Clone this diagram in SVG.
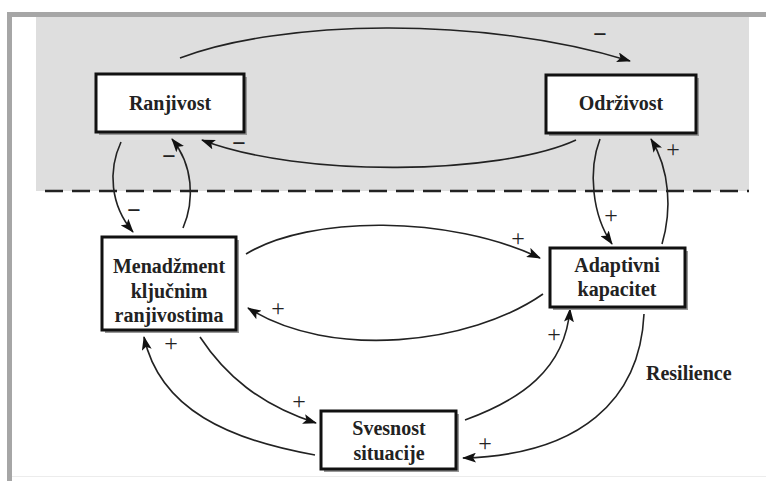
<svg xmlns="http://www.w3.org/2000/svg" width="766" height="481" viewBox="0 0 766 481">
<defs>
<marker id="ah" markerWidth="14" markerHeight="10" refX="13" refY="5" orient="auto" markerUnits="userSpaceOnUse">
<path d="M0,0 L14,5 L0,10 L3,5 z" fill="#111"/>
</marker>
<style>
.box{fill:#fff;stroke:#111;stroke-width:3}
.shadow{fill:#999}
.lbl{font-family:"Liberation Serif","Times New Roman",serif;font-weight:bold;font-size:20px;fill:#222;text-anchor:middle}
.sign{font-family:"Liberation Serif","Times New Roman",serif;font-size:24px;fill:#222;text-anchor:middle}
.minus{font-family:"Liberation Serif","Times New Roman",serif;font-size:24px;font-weight:bold;fill:#222;text-anchor:middle}
.con path{fill:none;stroke:#222;stroke-width:1.6;marker-end:url(#ah)}
</style>
</defs>
<rect x="0" y="0" width="766" height="481" fill="#fff"/>
<g id="frame">
<rect x="36" y="17" width="713" height="174" fill="#dedede"/>
<rect x="7" y="12" width="759" height="5" fill="#a6a6a6"/>
<rect x="7" y="12" width="5" height="469" fill="#a6a6a6"/>
<line x1="12" y1="476.5" x2="766" y2="476.5" stroke="#ececec" stroke-width="1"/>
<line x1="45" y1="191" x2="749" y2="191" stroke="#222" stroke-width="2.5" stroke-dasharray="18 9"/>
</g>
<g id="connectors" class="con">
<path d="M180,58 C280,20 480,15 630,61"/>
<path d="M576,140 C500,175 300,178 202,140"/>
<path d="M121,142 C108,170 110,205 133,232"/>
<path d="M183,228 C195,200 193,165 172,139"/>
<path d="M600,139 C588,170 592,215 612,244"/>
<path d="M662,244 C672,210 670,170 651,139"/>
<path d="M246,254 C310,215 450,215 540,258"/>
<path d="M543,294 C470,345 330,360 248,308"/>
<path d="M200,337 C225,375 260,405 316,423"/>
<path d="M315,455 C230,440 160,410 144,337"/>
<path d="M465,420 C520,400 565,370 570,309"/>
<path d="M644,314 C640,400 580,455 463,458"/>
</g>
<g id="signs">
<text class="minus" x="600" y="42">−</text>
<text class="minus" x="239" y="151">−</text>
<text class="minus" x="169" y="164">−</text>
<text class="minus" x="134" y="218">−</text>
<text class="sign" x="518" y="246">+</text>
<text class="sign" x="611" y="223">+</text>
<text class="sign" x="673" y="157">+</text>
<text class="sign" x="278" y="316">+</text>
<text class="sign" x="299" y="409">+</text>
<text class="sign" x="171" y="351">+</text>
<text class="sign" x="554" y="342">+</text>
<text class="sign" x="485" y="451">+</text>
</g>
<g id="ranjivost">
<rect class="shadow" x="99" y="77" width="148" height="58"/>
<rect class="box" x="96" y="74" width="148" height="58"/>
<text class="lbl" x="170" y="110">Ranjivost</text>
</g>
<g id="odrzivost">
<rect class="shadow" x="549" y="78" width="150" height="58"/>
<rect class="box" x="546" y="75" width="150" height="58"/>
<text class="lbl" x="621" y="110">Održivost</text>
</g>
<g id="menadzment">
<rect class="shadow" x="105" y="240" width="134" height="93"/>
<rect class="box" x="102" y="237" width="134" height="93"/>
<text class="lbl" x="169" y="273">Menadžment</text>
<text class="lbl" x="169" y="298">ključnim</text>
<text class="lbl" x="169" y="322">ranjivostima</text>
</g>
<g id="adaptivni">
<rect class="shadow" x="553" y="251" width="135" height="59"/>
<rect class="box" x="550" y="248" width="135" height="59"/>
<text class="lbl" x="617" y="272">Adaptivni</text>
<text class="lbl" x="617" y="296">kapacitet</text>
</g>
<g id="svesnost">
<rect class="shadow" x="324" y="414" width="135" height="58"/>
<rect class="box" x="321" y="411" width="135" height="58"/>
<text class="lbl" x="389" y="435">Svesnost</text>
<text class="lbl" x="389" y="460">situacije</text>
</g>
<text class="lbl" x="646" y="380" style="text-anchor:start">Resilience</text>
</svg>
